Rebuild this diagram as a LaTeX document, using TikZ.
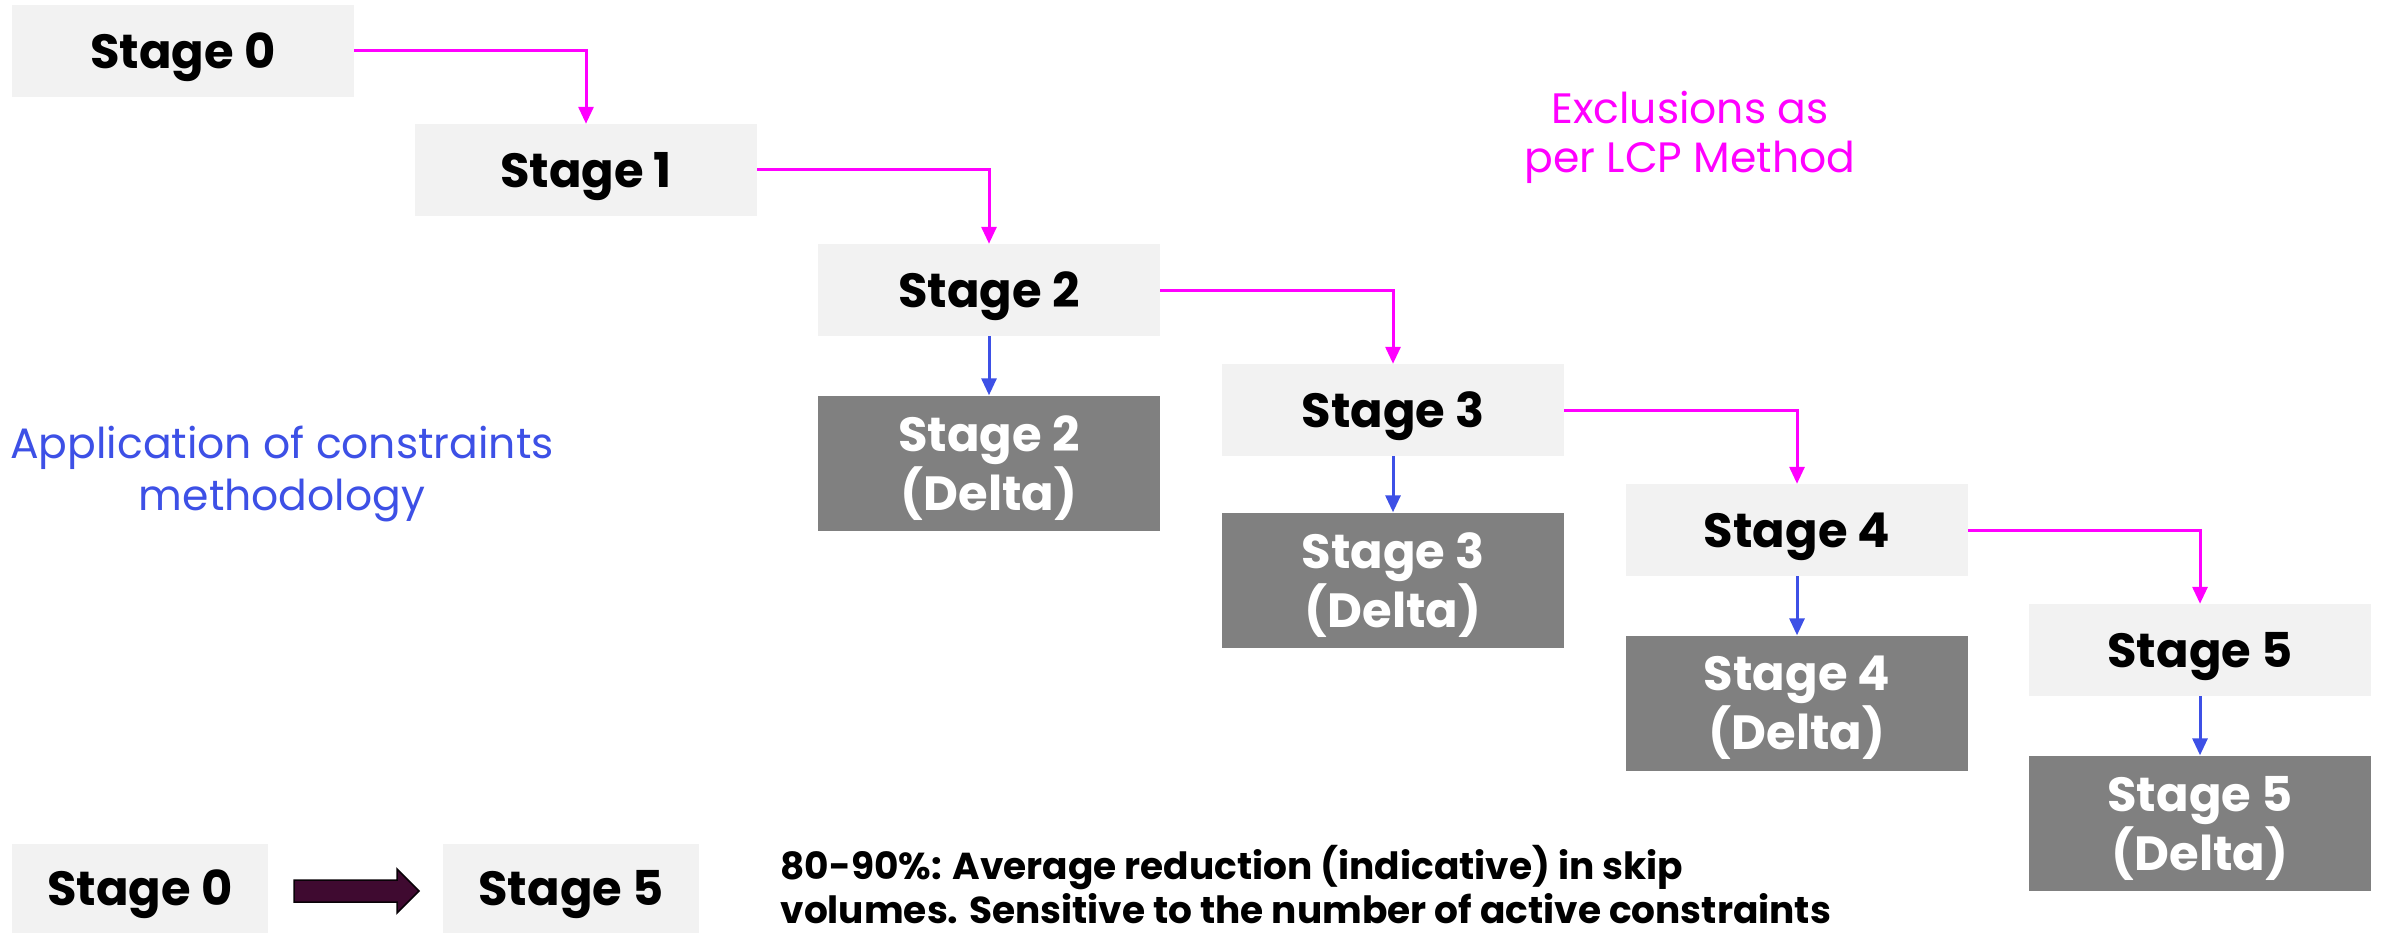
\documentclass[tikz,border=0pt]{standalone}
\usepackage{fontspec}
\setmainfont{Poppins}
\usetikzlibrary{arrows.meta}
\definecolor{boxgray}{HTML}{F2F2F2}
\definecolor{deltagray}{HTML}{808080}
\definecolor{mag}{HTML}{FF00FF}
\definecolor{blu}{HTML}{3D50E6}
\definecolor{plum}{HTML}{3F0A30}
\begin{document}
\begin{tikzpicture}[x=1pt,y=-1pt,
  stagebox/.style={rectangle, fill=boxgray, minimum width=342pt, minimum height=92pt, inner sep=0pt,
    text depth=0pt, font=\fontsize{48}{58}\selectfont\bfseries},
  deltabox/.style={rectangle, fill=deltagray, minimum width=342pt, minimum height=135pt, inner sep=0pt,
    text depth=0pt, align=center, text=white, font=\fontsize{48}{59}\selectfont\bfseries},
  smallbox/.style={rectangle, fill=boxgray, minimum width=256pt, minimum height=89pt, inner sep=0pt,
    text depth=0pt, font=\fontsize{48}{58}\selectfont\bfseries},
  excl/.style={draw=mag, line width=3pt, -{Triangle[length=17pt,width=15pt]}},
  cons/.style={draw=blu, line width=3pt, -{Triangle[length=17pt,width=15pt]}},
  blockarrow/.style={fill=plum, draw=black!85!plum, line width=1.5pt, line join=miter}
]
\useasboundingbox (0,0) rectangle (2381,933);
\fill[white] (0,0) rectangle (2381,933);

\node[stagebox] (s0) at (183,51) {Stage 0};
\node[stagebox] (s1) at (586,170) {Stage 1};
\node[stagebox] (s2) at (989,290) {Stage 2};
\node[stagebox] (s3) at (1393,410) {Stage 3};
\node[stagebox] (s4) at (1797,530) {Stage 4};
\node[stagebox] (s5) at (2200,650) {Stage 5};

\node[deltabox] (d2) at (989,463) {Stage 2\\(Delta)};
\node[deltabox] (d3) at (1393,580) {Stage 3\\(Delta)};
\node[deltabox] (d4) at (1797,703) {Stage 4\\(Delta)};
\node[deltabox] (d5) at (2200,823) {Stage 5\\(Delta)};

\draw[excl] (s0.east) -| (s1.north);
\draw[excl] (s1.east) -| (s2.north);
\draw[excl] (s2.east) -| (s3.north);
\draw[excl] (s3.east) -| (s4.north);
\draw[excl] (s4.east) -| (s5.north);

\draw[cons] (s2.south) -- (d2.north);
\draw[cons] (s3.south) -- (d3.north);
\draw[cons] (s4.south) -- (d4.north);
\draw[cons] (s5.south) -- (d5.north);

\node[text=mag, align=center, font=\fontsize{42.5}{49}\selectfont] (excltxt) at (1690,137) {Exclusions as\\per LCP Method};
\node[text=blu, align=center, font=\fontsize{42.5}{52}\selectfont] (constxt) at (282,474) {Application of constraints\\methodology};

\node[smallbox] (b0) at (140,888) {Stage 0};
\node[smallbox] (b5) at (571,888) {Stage 5};
\draw[blockarrow] (294,880) -- (397,880) -- (397,869) -- (419,891) -- (397,913) -- (397,902) -- (294,902) -- cycle;

\node[anchor=west, align=left, font=\fontsize{37.5}{44}\selectfont\bfseries] (note) at (777,885)
  {80-90\%: Average reduction (indicative) in skip\\volumes. Sensitive to the number of active constraints};
\end{tikzpicture}
\end{document}
